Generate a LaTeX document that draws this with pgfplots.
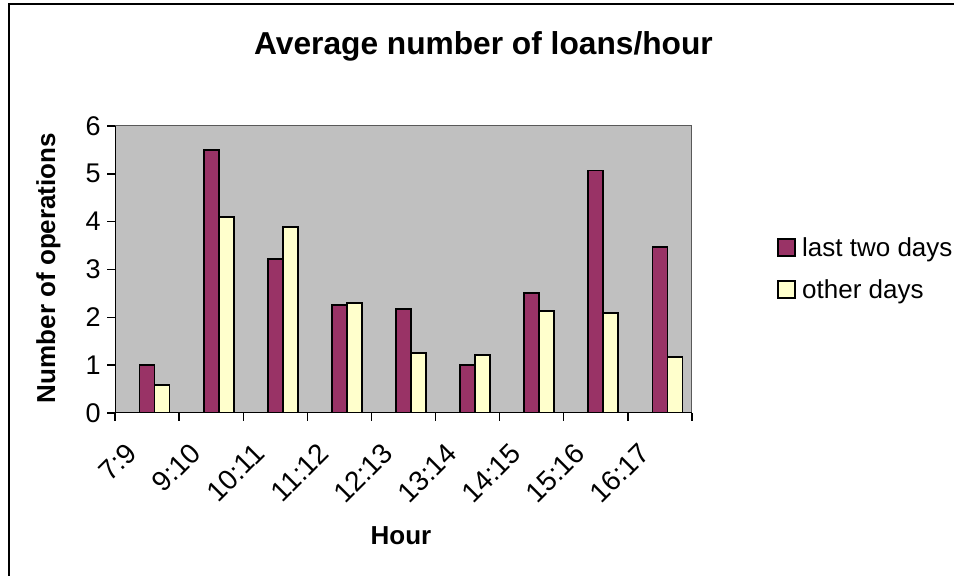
\documentclass[border=0pt]{standalone}
\usepackage{pgfplots}
\pgfplotsset{compat=1.18}
\usepackage{fontspec}
\setmainfont{Liberation Sans}
\definecolor{barA}{HTML}{993366}
\definecolor{barB}{HTML}{FFFFCC}
\definecolor{plotbg}{HTML}{C0C0C0}
\begin{document}
\begin{tikzpicture}
\useasboundingbox (0,0) rectangle (477pt,288pt);
\fill[white] (0,0) rectangle (477pt,288pt);
\draw[line width=1pt] (4.25pt,0pt) -- (4.25pt,285.75pt) -- (477pt,285.75pt);
\node[font=\fontsize{15.85}{18}\selectfont\bfseries, anchor=base] at (241.75pt,260.5pt) {Average number of loans/hour};
\node[font=\fontsize{13}{15}\selectfont\bfseries, anchor=base, rotate=90] at (27.5pt,154pt) {Number of operations};
\node[font=\fontsize{13}{15}\selectfont\bfseries, anchor=base] at (200.5pt,15.5pt) {Hour};
\begin{axis}[
  at={(57.5pt,81.5pt)}, anchor=south west,
  scale only axis, width=288.5pt, height=143.5pt,
  xmin=-0.5, xmax=8.5, ymin=0, ymax=6,
  axis background/.style={fill=plotbg},
  axis line style={draw=gray!70!black, line width=0.5pt},
  xtick={-0.5,0.5,...,8.5},
  xticklabels={7:9,9:10,10:11,11:12,12:13,13:14,14:15,15:16,16:17,{}},
  ytick={0,1,...,6},
  tick align=outside, major tick length=4pt,
  tick style={black, line width=0.7pt},
  xtick pos=bottom, ytick pos=left,
  /pgf/number format/assume math mode=true,
  yticklabel style={font=\fontsize{13.5}{15}\selectfont, inner sep=0pt, anchor=east, xshift=-3pt},
  xticklabel style={font=\fontsize{14}{16}\selectfont, inner sep=0pt, xshift=8.35pt, yshift=-13.5pt, rotate=45, anchor=east},
  legend style={at={(rel axis cs:1,0.5)}, anchor=west, xshift=42.5pt, yshift=0pt,
    draw=none, fill=none, inner sep=0pt, row sep=10pt, column sep=3pt,
    nodes={inner sep=0pt}, font=\fontsize{13}{15}\selectfont},
  legend cell align=left,
]
\addplot[ybar, bar width=7.5pt, bar shift=0pt, fill=barA, draw=black, line width=0.9pt,
  legend image code/.code={\draw[fill=barA, draw=black, line width=0.9pt] (0pt,-3.8pt) rectangle (8.5pt,4.8pt);}]
  coordinates {(0,1.0) (1,5.5) (2,3.22) (3,2.25) (4,2.18) (5,1.0) (6,2.51) (7,5.07) (8,3.47)};
\addlegendentry{last two days}
\addplot[ybar, bar width=7.5pt, bar shift=7.5pt, fill=barB, draw=black, line width=0.9pt,
  legend image code/.code={\draw[fill=barB, draw=black, line width=0.9pt] (0pt,-3.8pt) rectangle (8.5pt,4.8pt);}]
  coordinates {(0,0.58) (1,4.1) (2,3.89) (3,2.30) (4,1.25) (5,1.22) (6,2.13) (7,2.09) (8,1.17)};
\addlegendentry{other days}
\draw[black, line width=0.8pt] (rel axis cs:0,1) -- (rel axis cs:0,0) -- (rel axis cs:1,0);
\end{axis}
\end{tikzpicture}
\end{document}
